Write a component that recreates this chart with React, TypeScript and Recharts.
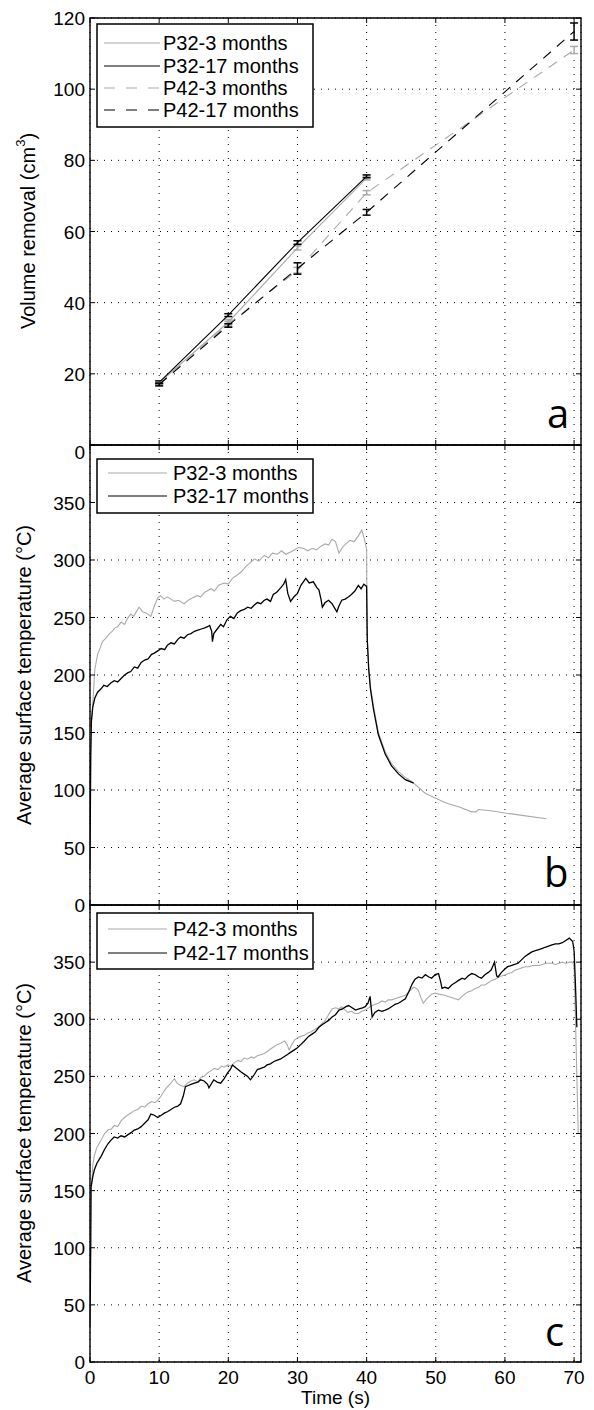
import React from 'react';
import { LineChart, Line, XAxis, YAxis, CartesianGrid, ReferenceArea, ErrorBar } from 'recharts';

// ---- axes ----
const timeTicks = [0, 10, 20, 30, 40, 50, 60, 70];
const volumeTicks = [0, 20, 40, 60, 80, 100, 120];
const tempTicks = [0, 50, 100, 150, 200, 250, 300, 350, 400];

// ---- panel a: volume removal (cm3) ----
const p32Times = [10, 20, 30, 40];
const p42Times = [10, 20, 30, 40, 70];
const p32m3Volume = [17.5, 34.5, 55.4, 75.0];
const p32m3VolumeErr = [0.5, 0.8, 0.6, 0.5];
const p32m17Volume = [17.6, 36.5, 56.9, 75.5];
const p32m17VolumeErr = [0.4, 0.4, 0.5, 0.4];
const p42m3Volume = [17.2, 34.0, 49.1, 70.9, 111.0];
const p42m3VolumeErr = [0.4, 0.8, 0.8, 0.6, 1.0];
const p42m17Volume = [17.0, 33.6, 49.6, 65.4, 116.2];
const p42m17VolumeErr = [0.4, 0.5, 1.6, 0.8, 2.4];

// ---- panel b: P32 surface temperature [time s, temp C] ----
const p32m3Temp: [number, number][] = [
  [0, 30], [0.1, 120], [0.2, 155], [0.4, 175], [0.7, 205], [1.1, 218], [1.5, 224], [1.8, 229], [2.3, 232],
  [2.8, 236], [3.2, 238], [3.6, 241], [4.0, 242], [4.5, 246], [5.0, 244], [5.4, 249], [5.9, 253], [6.3, 251],
  [6.8, 256], [7.1, 259], [7.6, 255], [8.1, 254], [8.8, 251], [9.3, 260], [9.8, 267], [10.2, 269], [10.7, 266],
  [11.2, 268], [11.7, 266], [12.2, 264], [12.8, 265], [13.6, 262], [14.2, 265], [14.8, 267], [15.5, 269],
  [16.0, 268], [16.6, 272], [17.5, 275], [18.0, 273], [18.6, 278], [19.4, 280], [20.0, 279], [20.6, 284],
  [21.3, 287], [21.9, 290], [22.5, 294], [23.2, 298], [23.8, 301], [24.4, 299], [25.2, 304], [25.8, 302],
  [26.4, 306], [27.1, 305], [27.7, 308], [28.3, 305], [29.0, 307], [29.6, 309], [30.2, 311], [30.9, 310],
  [31.5, 308], [32.1, 310], [32.8, 309], [33.4, 312], [34.0, 314], [34.5, 313], [35.0, 318], [35.5, 316],
  [36.0, 306], [36.5, 311], [37.0, 314], [37.6, 317], [38.2, 316], [38.8, 321], [39.3, 326], [39.7, 318],
  [40.0, 309], [40.06, 236], [40.3, 207], [40.55, 190], [41.0, 173], [41.7, 150], [42.7, 133], [43.6, 123],
  [44.6, 116], [45.6, 111], [46.6, 107], [48.5, 97], [51.4, 89], [53.5, 85], [55.2, 81], [55.8, 81],
  [56.2, 83], [58.0, 82], [60.0, 80], [63.0, 77.5], [66.0, 75],
];
const p32m17Temp: [number, number][] = [
  [0, 30], [0.1, 130], [0.2, 160], [0.4, 172], [0.7, 180], [1.1, 185], [1.6, 188], [2.0, 191], [2.5, 190],
  [3.0, 193], [3.5, 195], [4.0, 194], [4.5, 197], [5.0, 200], [5.5, 202], [5.9, 203], [6.4, 207], [6.9, 206],
  [7.4, 211], [7.9, 213], [8.4, 214], [8.9, 218], [9.3, 219], [9.8, 221], [10.3, 223], [10.8, 222], [11.2, 226],
  [11.7, 228], [12.2, 227], [12.7, 231], [13.1, 233], [13.6, 232], [14.1, 235], [14.6, 236], [15.1, 238],
  [15.6, 239], [16.1, 240], [16.6, 241], [17.0, 242], [17.3, 243], [17.6, 238], [17.7, 229], [17.9, 236],
  [18.4, 240], [18.9, 244], [19.3, 242], [19.8, 248], [20.3, 251], [20.8, 249], [21.3, 254], [21.8, 256],
  [22.3, 257], [22.8, 259], [23.3, 258], [23.8, 261], [24.2, 263], [24.7, 262], [25.2, 265], [25.6, 266],
  [26.1, 264], [26.5, 270], [27.0, 272], [27.6, 276], [28.0, 279], [28.3, 283], [28.6, 271], [29.0, 264],
  [29.5, 268], [30.0, 271], [30.5, 278], [31.2, 284], [31.7, 280], [32.3, 281], [32.8, 276], [33.1, 274],
  [33.4, 266], [33.6, 259], [34.0, 263], [34.5, 265], [35.0, 262], [35.4, 258], [35.7, 255], [36.0, 260],
  [36.4, 265], [36.9, 266], [37.4, 268], [37.8, 270], [38.3, 273], [38.8, 278], [39.2, 275], [39.6, 279],
  [40.0, 277], [40.1, 230], [40.3, 205], [40.55, 188], [41.0, 170], [41.7, 148], [42.7, 131], [43.6, 121],
  [44.6, 114], [45.6, 109], [46.8, 106],
];

// ---- panel c: P42 surface temperature [time s, temp C] ----
const p42m3Temp: [number, number][] = [
  [0, 30], [0.1, 110], [0.2, 150], [0.4, 172], [0.6, 180], [1.0, 188], [1.6, 194], [2.1, 200], [2.6, 203],
  [3.1, 204], [3.5, 207], [4.0, 206], [4.5, 211], [5.0, 214], [5.4, 216], [5.9, 218], [6.4, 220], [6.9, 221],
  [7.4, 224], [7.9, 223], [8.4, 226], [8.9, 228], [9.4, 227], [9.8, 229], [10.3, 233], [10.8, 238], [11.2, 241],
  [11.7, 244], [12.2, 248], [12.6, 244], [13.1, 242], [13.6, 241], [14.1, 244], [14.6, 246], [15.1, 247],
  [15.6, 245], [16.0, 249], [16.5, 250], [17.0, 253], [17.5, 255], [18.0, 257], [18.5, 256], [19.0, 259],
  [19.4, 258], [19.9, 260], [20.4, 259], [20.9, 262], [21.4, 264], [21.8, 263], [22.3, 266], [22.8, 265],
  [23.3, 267], [23.7, 266], [24.2, 268], [24.7, 269], [25.2, 270], [25.7, 272], [26.1, 274], [26.6, 276],
  [27.1, 278], [27.6, 279], [28.1, 281], [28.5, 278], [28.8, 273], [29.2, 278], [29.6, 282], [30.1, 284],
  [30.5, 285], [31.0, 286], [31.5, 288], [32.0, 289], [32.5, 291], [33.0, 293], [33.5, 296], [33.9, 298],
  [34.3, 302], [34.7, 306], [35.0, 309], [35.5, 310], [36.0, 309], [36.4, 311], [36.9, 308], [37.3, 306],
  [37.8, 307], [38.3, 305], [38.8, 305], [39.3, 307], [39.8, 308], [40.3, 310], [40.8, 312], [41.2, 313],
  [41.7, 314], [42.2, 316], [42.7, 315], [43.1, 317], [43.6, 317], [44.1, 318], [44.6, 319], [45.1, 320],
  [45.6, 321], [46.1, 324], [46.8, 328], [47.2, 327], [47.5, 325], [47.9, 318], [48.2, 314], [48.7, 318],
  [49.4, 322], [49.9, 323], [50.4, 322], [51.3, 321], [51.8, 320], [52.3, 319], [52.8, 318], [53.3, 317],
  [53.8, 320], [54.2, 322], [54.7, 324], [55.2, 325], [55.7, 327], [56.2, 328], [56.6, 330], [57.1, 330],
  [57.6, 332], [58.1, 334], [58.6, 335], [59.1, 337], [59.6, 338], [60.1, 339], [60.5, 340], [61.0, 341],
  [61.5, 343], [62.0, 344], [62.5, 345], [63.0, 346], [63.5, 346], [64.0, 347], [64.9, 347], [65.4, 348],
  [65.9, 349], [66.8, 349], [67.3, 348], [67.8, 349], [68.3, 350], [68.8, 349], [69.3, 350], [69.8, 350],
  [70.0, 345], [70.2, 300], [70.4, 250], [70.6, 200],
];
const p42m17Temp: [number, number][] = [
  [0, 30], [0.1, 100], [0.14, 153], [0.4, 162], [0.62, 168], [1.0, 174], [1.6, 180], [2.1, 186], [2.6, 191],
  [3.0, 194], [3.5, 197], [4.0, 196], [4.5, 198], [5.0, 197], [5.5, 199], [6.0, 201], [6.4, 203], [6.9, 204],
  [7.4, 206], [7.9, 209], [8.4, 212], [8.8, 217], [9.3, 216], [9.8, 214], [10.3, 216], [10.8, 218], [11.2, 219],
  [11.7, 221], [12.2, 223], [12.7, 224], [13.1, 226], [13.5, 233], [13.8, 241], [14.2, 242], [14.6, 243],
  [15.1, 244], [15.6, 245], [16.0, 247], [16.5, 246], [17.0, 243], [17.2, 240], [17.6, 244], [17.9, 247],
  [18.4, 245], [18.9, 244], [19.4, 248], [19.9, 253], [20.3, 256], [20.6, 260], [21.0, 258], [21.4, 256],
  [21.8, 254], [22.3, 252], [22.8, 250], [23.2, 247], [23.7, 251], [24.2, 256], [24.7, 257], [25.2, 258],
  [25.6, 260], [26.1, 261], [26.6, 263], [27.0, 264], [27.5, 265], [28.0, 267], [28.5, 269], [29.0, 271],
  [29.5, 273], [30.0, 275], [30.5, 278], [31.0, 281], [31.6, 285], [32.1, 287], [32.6, 289], [33.1, 293],
  [33.5, 295], [34.0, 297], [34.5, 299], [35.0, 302], [35.5, 304], [36.0, 308], [36.5, 309], [37.0, 311],
  [37.4, 312], [37.9, 310], [38.4, 308], [38.9, 309], [39.4, 310], [39.8, 311], [40.2, 314], [40.5, 320],
  [40.8, 302], [41.2, 306], [41.7, 308], [42.2, 307], [42.7, 308], [43.1, 309], [43.6, 311], [44.1, 313],
  [44.6, 314], [45.1, 316], [45.6, 318], [46.1, 324], [46.6, 331], [47.0, 335], [47.5, 337], [48.0, 336],
  [48.5, 339], [49.0, 337], [49.4, 336], [49.9, 339], [50.4, 340], [50.7, 333], [50.9, 327], [51.3, 328],
  [51.8, 327], [52.3, 330], [52.8, 332], [53.3, 334], [53.8, 336], [54.2, 335], [54.7, 338], [55.2, 340],
  [55.7, 339], [56.2, 337], [56.6, 336], [57.1, 339], [57.6, 341], [58.0, 343], [58.5, 350], [58.8, 338],
  [59.0, 337], [59.5, 341], [60.0, 344], [60.4, 346], [60.9, 347], [61.4, 348], [61.9, 349], [62.4, 352],
  [62.9, 355], [63.4, 357], [63.9, 359], [64.4, 360], [64.9, 361], [65.4, 362], [65.8, 363], [66.3, 364],
  [66.8, 365], [67.3, 366], [67.8, 366], [68.3, 367], [68.8, 369], [69.3, 371], [69.8, 368], [70.0, 360],
  [70.2, 330], [70.4, 293],
];

const GREY = '#aaaaaa';
const FONT = '"Liberation Sans", Arial, sans-serif';
const PLOT_W = 491;
const X_MAX = 71;

const toPoints = (rows: [number, number][]) => rows.map(([t, v]) => ({ t, v }));
const withErr = (times: number[], vals: number[], errs: number[]) =>
  times.map((t, i) => ({ t, v: vals[i], e: errs[i] }));

function XTick(props: any) {
  const { x, y, plotHeight, showLabel, payload } = props;
  return (
    <g>
      <line x1={x} x2={x} y1={y} y2={y - 5} stroke="#000" />
      <line x1={x} x2={x} y1={y - plotHeight} y2={y - plotHeight + 5} stroke="#000" />
      {showLabel && (
        <text x={x} y={y + 22} textAnchor="middle" fontFamily={FONT} fontSize={19} fill="#000">
          {payload.value}
        </text>
      )}
    </g>
  );
}

function YTick(props: any) {
  const { x, y, payload, hideValue, zeroDy } = props;
  const v = payload.value;
  return (
    <g>
      <line x1={x} x2={x + 5} y1={y} y2={y} stroke="#000" />
      <line x1={x + PLOT_W - 5} x2={x + PLOT_W} y1={y} y2={y} stroke="#000" />
      {v !== hideValue && (
        <text x={x - 5} y={y} dy={v === 0 && zeroDy ? zeroDy : 7} textAnchor="end" fontFamily={FONT} fontSize={19} fill="#000">
          {v}
        </text>
      )}
    </g>
  );
}

function LegendBox({ left, top, width, height, rows, rowY, lineX1, lineX2, textX }: any) {
  return (
    <svg width={width + 2} height={height + 2} style={{ position: 'absolute', left, top }}>
      <rect x={1} y={1} width={width} height={height} fill="#fff" stroke="#000" strokeWidth={1.5} />
      {rows.map((r: any, i: number) => (
        <g key={r.name}>
          <line x1={lineX1} x2={lineX2} y1={rowY[i]} y2={rowY[i]} stroke={r.color} strokeWidth={1.2} strokeDasharray={r.dash} />
          <text x={textX} y={rowY[i] + 7} fontFamily={FONT} fontSize={20} fill="#000">{r.name}</text>
        </g>
      ))}
    </svg>
  );
}

const frameProps = { fill: 'none', stroke: '#000', strokeWidth: 1.4, fillOpacity: 0 };

export default function App() {
  return (
    <div style={{ position: 'absolute', left: 0, top: 0, width: 594, height: 1410, background: '#fff', overflow: 'hidden' }}>
      {/* panel a */}
      <div style={{ position: 'absolute', left: 0, top: 0 }}>
        <LineChart width={594} height={465} margin={{ top: 18, right: 13, bottom: 0, left: 0 }}>
          <CartesianGrid stroke="#000" strokeDasharray="1 6" />
          <XAxis type="number" dataKey="t" domain={[0, X_MAX]} ticks={timeTicks} interval={0} height={20}
            axisLine={false} tickLine={false} tickSize={0} tickMargin={0} allowDuplicatedCategory={false}
            tick={<XTick plotHeight={427} showLabel={false} />} />
          <YAxis type="number" domain={[0, 120]} ticks={volumeTicks} interval={0} width={90}
            axisLine={false} tickLine={false} tickSize={0} tickMargin={0}
            tick={<YTick hideValue={null} zeroDy={14} />} />
          <ReferenceArea x1={0} x2={X_MAX} y1={0} y2={120} {...frameProps} />
          <Line data={withErr(p32Times, p32m3Volume, p32m3VolumeErr)} dataKey="v" stroke={GREY} strokeWidth={1.1} dot={false} isAnimationActive={false}>
            <ErrorBar dataKey="e" width={4} stroke={GREY} />
          </Line>
          <Line data={withErr(p32Times, p32m17Volume, p32m17VolumeErr)} dataKey="v" stroke="#000" strokeWidth={1.1} dot={false} isAnimationActive={false}>
            <ErrorBar dataKey="e" width={4} stroke="#000" />
          </Line>
          <Line data={withErr(p42Times, p42m3Volume, p42m3VolumeErr)} dataKey="v" stroke={GREY} strokeWidth={1.1} strokeDasharray="10 8" dot={false} isAnimationActive={false}>
            <ErrorBar dataKey="e" width={4} stroke={GREY} />
          </Line>
          <Line data={withErr(p42Times, p42m17Volume, p42m17VolumeErr)} dataKey="v" stroke="#000" strokeWidth={1.1} strokeDasharray="10 8" dot={false} isAnimationActive={false}>
            <ErrorBar dataKey="e" width={4} stroke="#000" />
          </Line>
        </LineChart>
      </div>

      {/* panel b */}
      <div style={{ position: 'absolute', left: 0, top: 425 }}>
        <LineChart width={594} height={500} margin={{ top: 20, right: 13, bottom: 0, left: 0 }}>
          <CartesianGrid stroke="#000" strokeDasharray="1 6" />
          <XAxis type="number" dataKey="t" domain={[0, X_MAX]} ticks={timeTicks} interval={0} height={20}
            axisLine={false} tickLine={false} tickSize={0} tickMargin={0} allowDuplicatedCategory={false}
            tick={<XTick plotHeight={460} showLabel={false} />} />
          <YAxis type="number" domain={[0, 400]} ticks={tempTicks} interval={0} width={90}
            axisLine={false} tickLine={false} tickSize={0} tickMargin={0}
            tick={<YTick hideValue={400} zeroDy={0} />} />
          <ReferenceArea x1={0} x2={X_MAX} y1={0} y2={400} {...frameProps} />
          <Line data={toPoints(p32m3Temp)} dataKey="v" stroke={GREY} strokeWidth={1.1} dot={false} isAnimationActive={false} />
          <Line data={toPoints(p32m17Temp)} dataKey="v" stroke="#000" strokeWidth={1.3} dot={false} isAnimationActive={false} />
        </LineChart>
      </div>

      {/* panel c */}
      <div style={{ position: 'absolute', left: 0, top: 885 }}>
        <LineChart width={594} height={525} margin={{ top: 20, right: 13, bottom: 0, left: 0 }}>
          <CartesianGrid stroke="#000" strokeDasharray="1 6" />
          <XAxis type="number" dataKey="t" domain={[0, X_MAX]} ticks={timeTicks} interval={0} height={48}
            axisLine={false} tickLine={false} tickSize={0} tickMargin={0} allowDuplicatedCategory={false}
            tick={<XTick plotHeight={457} showLabel={true} />}
            label={{ value: 'Time (s)', position: 'insideBottom', offset: 6, fontFamily: FONT, fontSize: 19, fill: '#000' }} />
          <YAxis type="number" domain={[0, 400]} ticks={tempTicks} interval={0} width={90}
            axisLine={false} tickLine={false} tickSize={0} tickMargin={0}
            tick={<YTick hideValue={400} zeroDy={0} />} />
          <ReferenceArea x1={0} x2={X_MAX} y1={0} y2={400} {...frameProps} />
          <Line data={toPoints(p42m3Temp)} dataKey="v" stroke={GREY} strokeWidth={1.1} dot={false} isAnimationActive={false} />
          <Line data={toPoints(p42m17Temp)} dataKey="v" stroke="#000" strokeWidth={1.3} dot={false} isAnimationActive={false} />
        </LineChart>
      </div>

      {/* axis titles and panel letters */}
      <svg width={594} height={1410} style={{ position: 'absolute', left: 0, top: 0, pointerEvents: 'none' }}>
        <text transform="translate(28,231) rotate(-90)" textAnchor="middle" dominantBaseline="central" fontFamily={FONT} fontSize={20} fill="#000">
          Volume removal (cm<tspan dy={-8} fontSize={13}>3</tspan><tspan dy={8}>)</tspan>
        </text>
        <text transform="translate(24,675) rotate(-90)" textAnchor="middle" dominantBaseline="central" fontFamily={FONT} fontSize={20} fill="#000">
          Average surface temperature (°C)
        </text>
        <text transform="translate(24,1133) rotate(-90)" textAnchor="middle" dominantBaseline="central" fontFamily={FONT} fontSize={20} fill="#000">
          Average surface temperature (°C)
        </text>
        <text x={547} y={428} fontFamily='"Open Sans", sans-serif' fontSize={40} fill="#000">a</text>
        <text x={544} y={887} fontFamily='"Open Sans", sans-serif' fontSize={40} fill="#000">b</text>
        <text x={545} y={1346} fontFamily='"Open Sans", sans-serif' fontSize={40} fill="#000">c</text>
      </svg>

      <LegendBox left={96} top={23} width={216} height={103} rowY={[20, 43, 65, 87]} lineX1={8} lineX2={64} textX={67}
        rows={[
          { name: 'P32-3 months', color: GREY, dash: undefined },
          { name: 'P32-17 months', color: '#000', dash: undefined },
          { name: 'P42-3 months', color: GREY, dash: '11 11' },
          { name: 'P42-17 months', color: '#000', dash: '11 11' },
        ]} />
      <LegendBox left={96} top={458} width={216} height={54} rowY={[15, 38]} lineX1={12} lineX2={71} textX={77}
        rows={[
          { name: 'P32-3 months', color: GREY, dash: undefined },
          { name: 'P32-17 months', color: '#000', dash: undefined },
        ]} />
      <LegendBox left={96} top={912} width={216} height={56} rowY={[17, 41]} lineX1={12} lineX2={71} textX={77}
        rows={[
          { name: 'P42-3 months', color: GREY, dash: undefined },
          { name: 'P42-17 months', color: '#000', dash: undefined },
        ]} />
    </div>
  );
}
